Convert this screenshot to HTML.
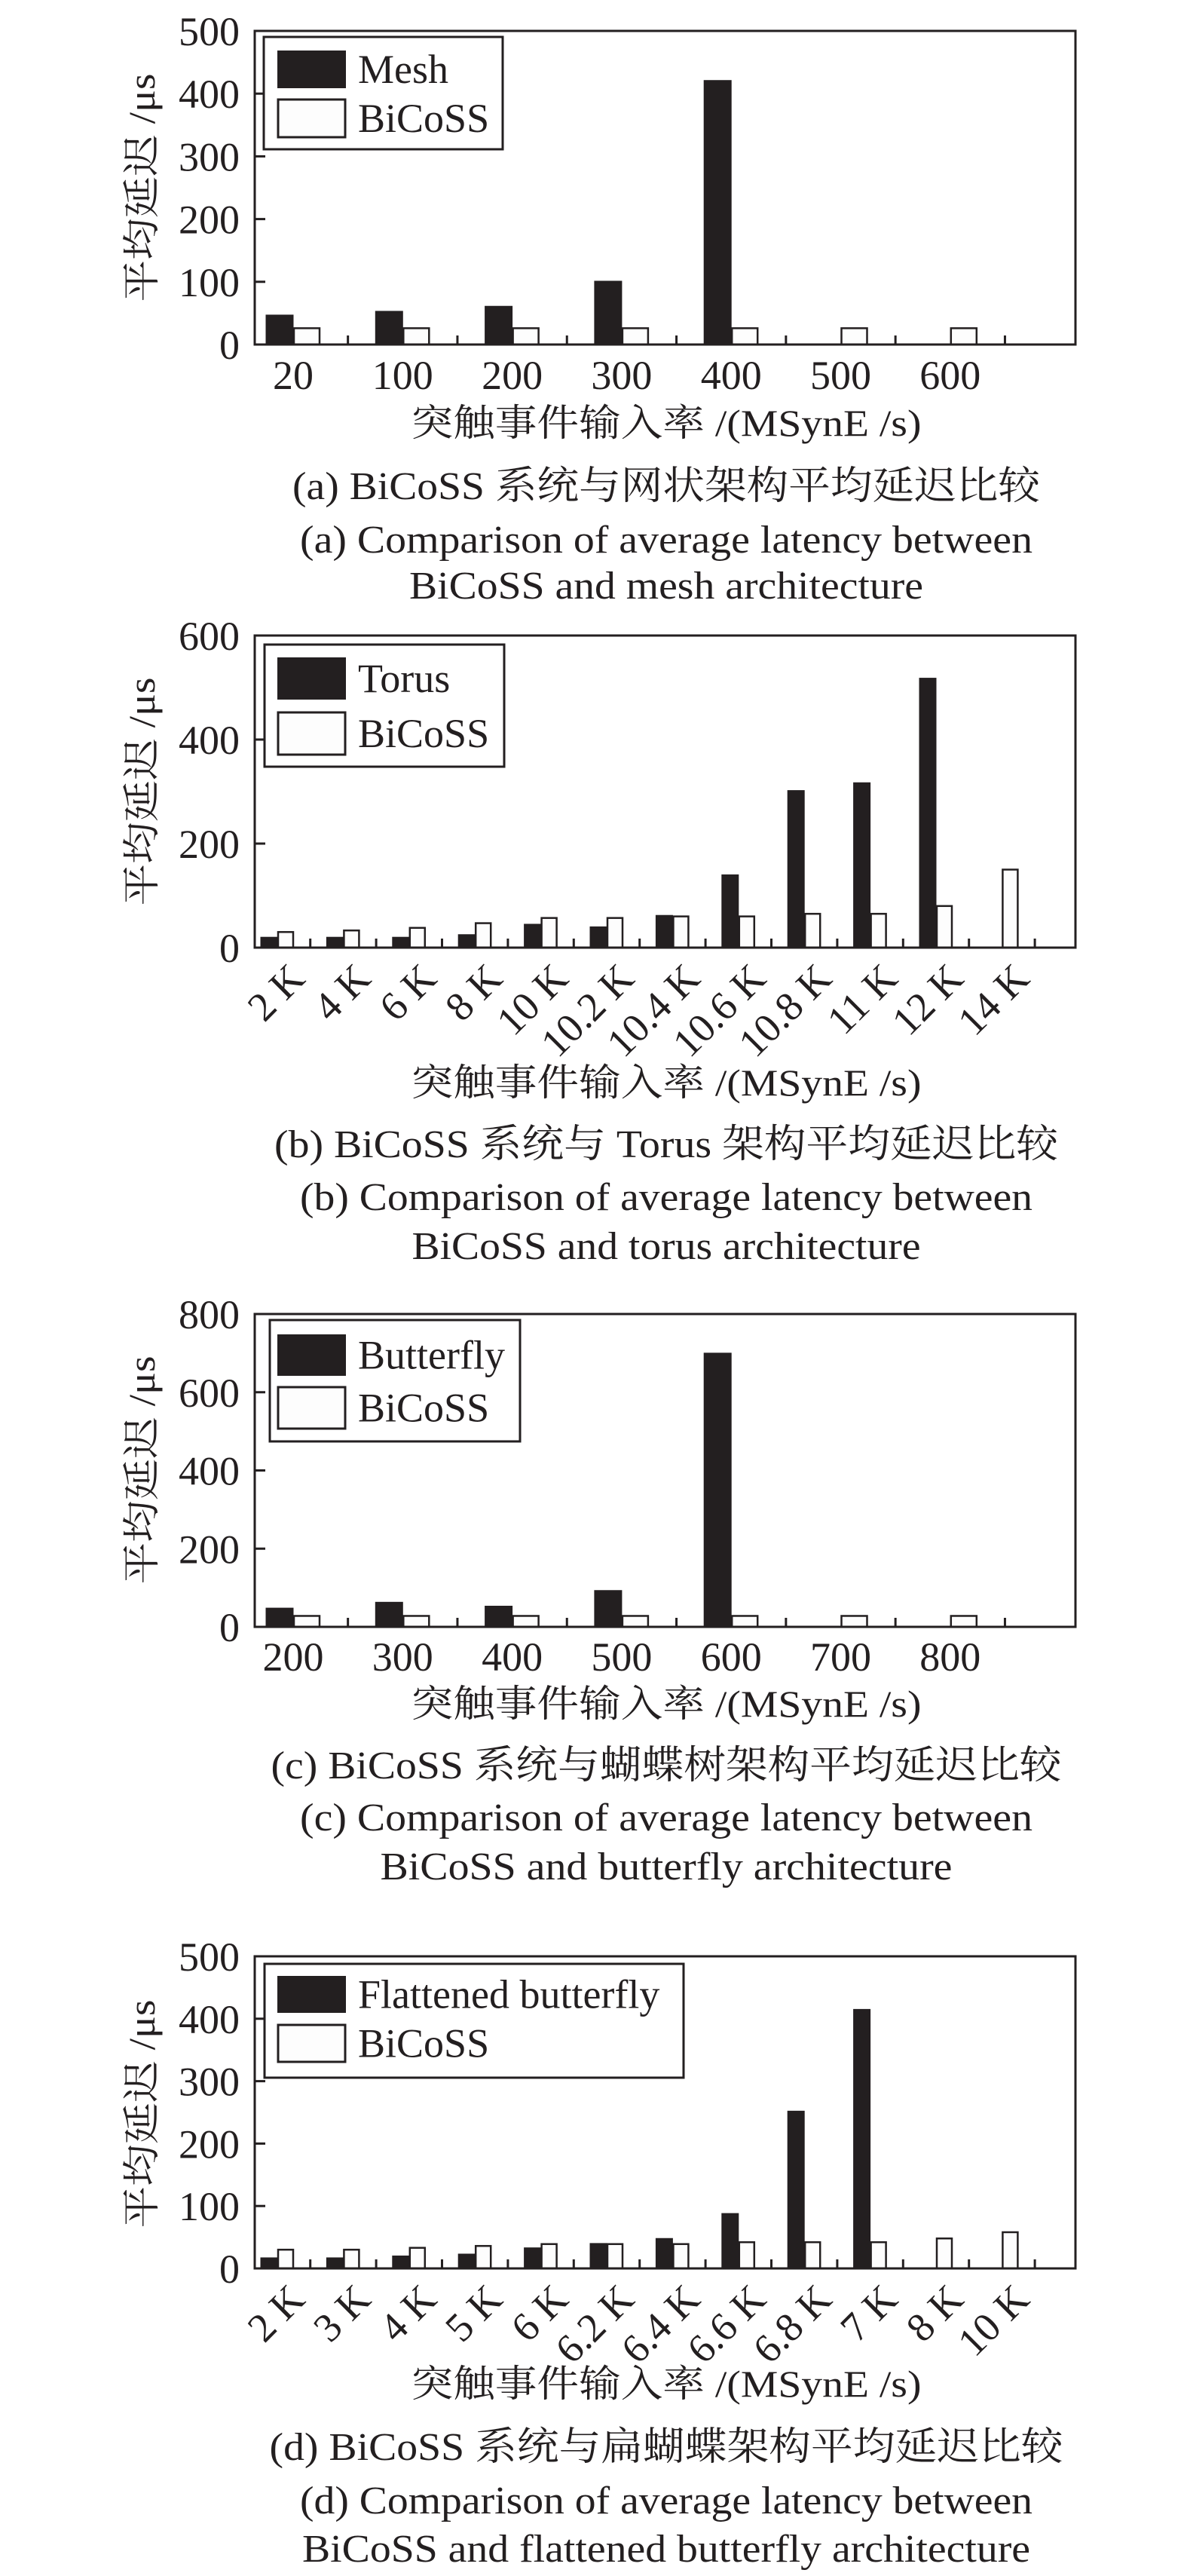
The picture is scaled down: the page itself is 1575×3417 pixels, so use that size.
<!DOCTYPE html>
<html><head><meta charset="utf-8"><style>
html,body{margin:0;padding:0;background:#fff}
svg{display:block}
text{font-family:"Liberation Serif","Noto Serif CJK SC","Noto Sans CJK SC",serif;fill:#231f20}
</style></head><body>
<svg id="fig" width="1575" height="3417" viewBox="0 0 1575 3417" xmlns="http://www.w3.org/2000/svg"></svg>
<script>
// ---- chart (a) data ----
const catsA = ["20","100","200","300","400","500","600"];
const meshA = [47,53,61,101,421,null,null];
const bicossA = [26,26,26,26,26,26,26];
const ticksA = [0,100,200,300,400,500];
// ---- chart (b) data ----
const catsB = ["2 K","4 K","6 K","8 K","10 K","10.2 K","10.4 K","10.6 K","10.8 K","11 K","12 K","14 K"];
const torusB = [20,20,20,25,45,40,62,140,302,317,518,null];
const bicossB = [30,33,38,47,57,57,60,60,65,65,80,150];
const ticksB = [0,200,400,600];
// ---- chart (c) data ----
const catsC = ["200","300","400","500","600","700","800"];
const butterflyC = [48,63,53,93,700,null,null];
const bicossC = [28,28,28,28,28,28,28];
const ticksC = [0,200,400,600,800];
// ---- chart (d) data ----
const catsD = ["2 K","3 K","4 K","5 K","6 K","6.2 K","6.4 K","6.6 K","6.8 K","7 K","8 K","10 K"];
const flatD = [17,17,20,23,33,40,48,88,252,415,null,null];
const bicossD = [30,30,33,36,39,39,39,42,42,42,48,58];
const ticksD = [0,100,200,300,400,500];

const NS = "http://www.w3.org/2000/svg";
const svg = document.getElementById("fig");
function mk(tag, attrs, parent){
  const e = document.createElementNS(NS, tag);
  for (const k in attrs) e.setAttribute(k, attrs[k]);
  (parent||svg).appendChild(e);
  return e;
}
function txt(str, attrs, parent){ const t = mk("text", attrs, parent); t.textContent = str; return t; }

function drawChart(c){
  const g = mk("g", {});
  
  
  const L = 338, R = 1427, T = c.top, B = c.bottom;
  const ymax = c.ticks[c.ticks.length-1];
  const yScale = v => B - (v / ymax) * (B - T);
  const xScale = i => c.x0 + i * c.step; // boundary between paired bars
  // bars
  c.cats.forEach((cat, i) => {
    const bx = xScale(i);
    const v1 = c.s1[i], v2 = c.s2[i];
    if (v1 !== null && v1 !== undefined) {
      const r = mk("rect", {x: bx - c.bw, y: yScale(v1), width: c.bw, height: B - yScale(v1), fill: "#231f20", stroke: "#231f20", "stroke-width": 1}, g);
      
      
    }
    if (v2 !== null && v2 !== undefined) {
      const r = mk("rect", {x: bx + 1, y: yScale(v2), width: c.bw - 2, height: B - yScale(v2), fill: "#fdfdfd", stroke: "#231f20", "stroke-width": 2.5}, g);
      
      
    }
    // minor x ticks between groups
    const tk = mk("line", {x1: bx + c.step/2, x2: bx + c.step/2, y1: B, y2: B - 12, stroke: "#231f20", "stroke-width": 3}, g);
    
    
    // x labels
    let lab;
    if (c.rotate) {
      const ax = bx + 39, ay = B + 44;
      lab = txt(cat, {x: ax, y: ay, "text-anchor": "end", "font-size": 54, transform: `rotate(-45 ${ax} ${ay})`}, g);
    } else {
      lab = txt(cat, {x: bx, y: c.labelY, "text-anchor": "middle", "font-size": 54}, g);
    }
    
    
  });
  // frame
  const fr = mk("rect", {x: L, y: T, width: R - L, height: B - T, fill: "none", stroke: "#231f20", "stroke-width": 3}, g);
  
  
  // y ticks
  c.ticks.forEach(t => {
    const y = yScale(t);
    const l = mk("line", {x1: L, x2: L + 14, y1: y, y2: y, stroke: "#231f20", "stroke-width": 3}, g);
    
    
    const tl = txt(String(t), {x: 318, y: y + 19, "text-anchor": "end", "font-size": 54}, g);
    
    
  });
  // y title
  const yt = txt("平均延迟 /μs", {x: 205, y: c.yTitleY, "text-anchor": "middle", "font-size": 50, textLength: 303, lengthAdjust: "spacingAndGlyphs", transform: `rotate(-90 205 ${c.yTitleY})`}, g);
  
  
  // legend
  const lg = mk("g", {}, g);
  
  
  const lb = c.legend;
  mk("rect", {x: lb.x1, y: lb.y1, width: lb.x2 - lb.x1, height: lb.y2 - lb.y1, fill: "#fff", stroke: "#231f20", "stroke-width": 3}, lg);
  const s1 = mk("rect", {x: 368, y: lb.s1y, width: 91, height: lb.sh, fill: "#231f20"}, lg);
  
  
  const s2 = mk("rect", {x: 369, y: lb.s2y, width: 89, height: lb.sh, fill: "#fdfdfd", stroke: "#231f20", "stroke-width": 3}, lg);
  
  
  const t1 = txt(c.name1, {x: 475, y: lb.s1y + lb.sh/2 + 18, "font-size": 54}, lg);
  
  
  const t2 = txt("BiCoSS", {x: 475, y: lb.s2y + lb.sh/2 + 18, "font-size": 54}, lg);
  
  
  // x title & captions
  const xt = txt("突触事件输入率 /(MSynE /s)", {x: 884, y: c.xTitleY, "text-anchor": "middle", "font-size": 50, textLength: 677, lengthAdjust: "spacingAndGlyphs"}, g);
  
  
  const cp = c.caps;
  const c1 = txt(cp[0][0], {x: 884, y: cp[0][1], "text-anchor": "middle", "font-size": 52, textLength: cp[0][2], lengthAdjust: "spacingAndGlyphs"}, g);
  
  
  const c2 = txt(cp[1][0], {x: 884, y: cp[1][1], "text-anchor": "middle", "font-size": 52, textLength: cp[1][2], lengthAdjust: "spacingAndGlyphs"}, g);
  
  
  const c3 = txt(cp[2][0], {x: 884, y: cp[2][1], "text-anchor": "middle", "font-size": 52, textLength: cp[2][2], lengthAdjust: "spacingAndGlyphs"}, g);
  
  
}

drawChart({id:"chart-a-mesh", cats: catsA, s1: meshA, s2: bicossA, ticks: ticksA, name1: "Mesh",
  top: 41, bottom: 457, x0: 389, step: 145.3, bw: 36, rotate: false, labelY: 516, yTitleY: 249,
  legend: {x1: 350, y1: 49, x2: 667, y2: 198, s1y: 67, s2y: 132, sh: 50},
  xTitleY: 578,
  caps: [["(a) BiCoSS 系统与网状架构平均延迟比较", 662, 992], ["(a) Comparison of average latency between", 733, 972], ["BiCoSS and mesh architecture", 794, 682]]});

drawChart({id:"chart-b-torus", cats: catsB, s1: torusB, s2: bicossB, ticks: ticksB, name1: "Torus",
  top: 843, bottom: 1257, x0: 368, step: 87.4, bw: 22, rotate: true, yTitleY: 1050,
  legend: {x1: 351, y1: 855, x2: 669, y2: 1017, s1y: 872, s2y: 945, sh: 56},
  xTitleY: 1453,
  caps: [["(b) BiCoSS 系统与 Torus 架构平均延迟比较", 1535, 1040], ["(b) Comparison of average latency between", 1605, 972], ["BiCoSS and torus architecture", 1670, 675]]});

drawChart({id:"chart-c-butterfly", cats: catsC, s1: butterflyC, s2: bicossC, ticks: ticksC, name1: "Butterfly",
  top: 1743, bottom: 2158, x0: 389, step: 145.3, bw: 36, rotate: false, labelY: 2216, yTitleY: 1950,
  legend: {x1: 358, y1: 1751, x2: 690, y2: 1912, s1y: 1770, s2y: 1840, sh: 55},
  xTitleY: 2277,
  caps: [["(c) BiCoSS 系统与蝴蝶树架构平均延迟比较", 2359, 1049], ["(c) Comparison of average latency between", 2428, 972], ["BiCoSS and butterfly architecture", 2493, 759]]});

drawChart({id:"chart-d-flattened-butterfly", cats: catsD, s1: flatD, s2: bicossD, ticks: ticksD, name1: "Flattened butterfly",
  top: 2595, bottom: 3009, x0: 368, step: 87.4, bw: 22, rotate: true, yTitleY: 2804,
  legend: {x1: 351, y1: 2605, x2: 907, y2: 2756, s1y: 2621, s2y: 2686, sh: 49},
  xTitleY: 3179,
  caps: [["(d) BiCoSS 系统与扁蝴蝶架构平均延迟比较", 3263, 1053], ["(d) Comparison of average latency between", 3334, 972], ["BiCoSS and flattened butterfly architecture", 3398, 966]]});
</script>
</body></html>
